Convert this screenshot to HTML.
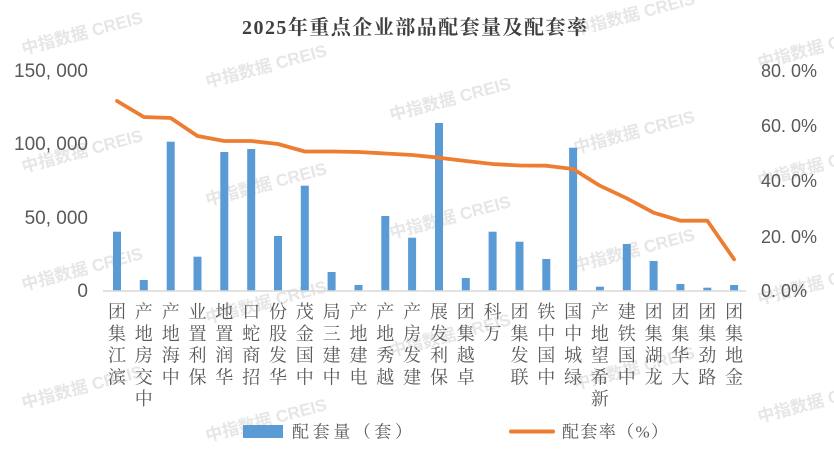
<!DOCTYPE html>
<html><head><meta charset="utf-8">
<style>
html,body{margin:0;padding:0;background:#fff;overflow:hidden;}
svg{display:block;}
.wm{font-family:"Liberation Sans","Noto Sans CJK SC",sans-serif;font-size:17px;fill:#e6e6e6;font-weight:bold;}
.ax{font-family:"Liberation Sans","Noto Sans CJK SC",sans-serif;font-size:19px;fill:#595959;}
.axr{font-family:"Liberation Sans","Noto Sans CJK SC",sans-serif;font-size:18px;fill:#595959;}
.cat{font-family:"Liberation Serif","Noto Serif CJK SC",serif;font-size:18px;fill:#595959;}
.lg{font-family:"Liberation Serif","Noto Serif CJK SC",serif;font-size:17px;fill:#595959;}
.tt{font-family:"Liberation Serif","Noto Serif CJK SC",serif;font-size:20px;font-weight:bold;fill:#404040;}
</style></head>
<body>
<svg width="834" height="455" viewBox="0 0 834 455" xmlns="http://www.w3.org/2000/svg">
<rect width="834" height="455" fill="#fff"/>
<!-- watermarks -->
<g class="wm" text-anchor="middle">
<text x="82" y="39" transform="rotate(-15 82 33)">中指数据 CREIS</text>
<text x="82" y="157" transform="rotate(-15 82 151)">中指数据 CREIS</text>
<text x="82" y="275" transform="rotate(-15 82 269)">中指数据 CREIS</text>
<text x="82" y="393" transform="rotate(-15 82 387)">中指数据 CREIS</text>
<text x="266" y="72" transform="rotate(-15 266 66)">中指数据 CREIS</text>
<text x="266" y="190" transform="rotate(-15 266 184)">中指数据 CREIS</text>
<text x="266" y="308" transform="rotate(-15 266 302)">中指数据 CREIS</text>
<text x="266" y="426" transform="rotate(-15 266 420)">中指数据 CREIS</text>
<text x="450" y="105" transform="rotate(-15 450 99)">中指数据 CREIS</text>
<text x="450" y="223" transform="rotate(-15 450 217)">中指数据 CREIS</text>
<text x="450" y="341" transform="rotate(-15 450 335)">中指数据 CREIS</text>
<text x="634" y="20" transform="rotate(-15 634 14)">中指数据 CREIS</text>
<text x="634" y="138" transform="rotate(-15 634 132)">中指数据 CREIS</text>
<text x="634" y="256" transform="rotate(-15 634 250)">中指数据 CREIS</text>
<text x="634" y="374" transform="rotate(-15 634 368)">中指数据 CREIS</text>
<text x="818" y="53" transform="rotate(-15 818 47)">中指数据 CREIS</text>
<text x="818" y="171" transform="rotate(-15 818 165)">中指数据 CREIS</text>
<text x="818" y="289" transform="rotate(-15 818 283)">中指数据 CREIS</text>
<text x="818" y="407" transform="rotate(-15 818 401)">中指数据 CREIS</text>
</g>

<!-- title -->
<text class="tt" x="242" y="34" textLength="345" lengthAdjust="spacing">2025年重点企业部品配套量及配套率</text>

<!-- left axis labels -->
<g class="ax" text-anchor="end">
<text x="88" y="77">150, 000</text>
<text x="88" y="150">100, 000</text>
<text x="88" y="224">50, 000</text>
<text x="88" y="297">0</text>
</g>
<!-- right axis labels -->
<g class="axr">
<text x="761" y="77">80. 0%</text>
<text x="761" y="132">60. 0%</text>
<text x="761" y="187">40. 0%</text>
<text x="761" y="243">20. 0%</text>
<text x="761" y="297">0. 0%</text>
</g>

<!-- bars -->
<g fill="#5B9BD5">
<rect x="113.0" y="231.7" width="8" height="59.3"/>
<rect x="139.8" y="280" width="8" height="11"/>
<rect x="166.7" y="141.7" width="8" height="149.3"/>
<rect x="193.5" y="256.7" width="8" height="34.3"/>
<rect x="220.3" y="152" width="8" height="139"/>
<rect x="247.2" y="149" width="8" height="142"/>
<rect x="274.0" y="236" width="8" height="55"/>
<rect x="300.8" y="185.7" width="8" height="105.3"/>
<rect x="327.6" y="272" width="8" height="19"/>
<rect x="354.5" y="285" width="8" height="6"/>
<rect x="381.3" y="216" width="8" height="75"/>
<rect x="408.1" y="237.7" width="8" height="53.3"/>
<rect x="435.0" y="123" width="8" height="168"/>
<rect x="461.8" y="278" width="8" height="13"/>
<rect x="488.6" y="231.7" width="8" height="59.3"/>
<rect x="515.5" y="241.7" width="8" height="49.3"/>
<rect x="542.3" y="259" width="8" height="32"/>
<rect x="569.1" y="147.7" width="8" height="143.3"/>
<rect x="595.9" y="286.7" width="8" height="4.3"/>
<rect x="622.8" y="244" width="8" height="47"/>
<rect x="649.6" y="261" width="8" height="30"/>
<rect x="676.4" y="284" width="8" height="7"/>
<rect x="703.3" y="287.7" width="8" height="3.3"/>
<rect x="730.1" y="285" width="8" height="6"/>
</g>

<!-- axis line -->
<line x1="103" y1="291" x2="746" y2="291" stroke="#D9D9D9" stroke-width="1.5"/>

<!-- rate line -->
<polyline fill="none" stroke="#ED7D31" stroke-width="3.8" stroke-linejoin="round" stroke-linecap="round"
points="117,101 143.8,117 170.7,118 197.5,136 224.3,141 251.2,141 278,144 304.8,151.5 331.6,151.5 358.5,152 385.3,153.5 412.1,155 439,157.7 465.8,161 492.6,164 519.5,165.5 546.3,165.7 573.1,169 599.9,185.7 626.8,198.3 653.6,212.7 680.4,220.7 707.3,220.7 734.1,259.3"/>

<!-- category labels -->
<g class="cat" text-anchor="middle">
<text><tspan x="117" y="383.3">滨</tspan><tspan x="117" y="361.6">江</tspan><tspan x="117" y="339.9">集</tspan><tspan x="117" y="318.2">团</tspan></text>
<text><tspan x="143.8" y="405">中</tspan><tspan x="143.8" y="383.3">交</tspan><tspan x="143.8" y="361.6">房</tspan><tspan x="143.8" y="339.9">地</tspan><tspan x="143.8" y="318.2">产</tspan></text>
<text><tspan x="170.7" y="383.3">中</tspan><tspan x="170.7" y="361.6">海</tspan><tspan x="170.7" y="339.9">地</tspan><tspan x="170.7" y="318.2">产</tspan></text>
<text><tspan x="197.5" y="383.3">保</tspan><tspan x="197.5" y="361.6">利</tspan><tspan x="197.5" y="339.9">置</tspan><tspan x="197.5" y="318.2">业</tspan></text>
<text><tspan x="224.3" y="383.3">华</tspan><tspan x="224.3" y="361.6">润</tspan><tspan x="224.3" y="339.9">置</tspan><tspan x="224.3" y="318.2">地</tspan></text>
<text><tspan x="251.2" y="383.3">招</tspan><tspan x="251.2" y="361.6">商</tspan><tspan x="251.2" y="339.9">蛇</tspan><tspan x="251.2" y="318.2">口</tspan></text>
<text><tspan x="278" y="383.3">华</tspan><tspan x="278" y="361.6">发</tspan><tspan x="278" y="339.9">股</tspan><tspan x="278" y="318.2">份</tspan></text>
<text><tspan x="304.8" y="383.3">中</tspan><tspan x="304.8" y="361.6">国</tspan><tspan x="304.8" y="339.9">金</tspan><tspan x="304.8" y="318.2">茂</tspan></text>
<text><tspan x="331.6" y="383.3">中</tspan><tspan x="331.6" y="361.6">建</tspan><tspan x="331.6" y="339.9">三</tspan><tspan x="331.6" y="318.2">局</tspan></text>
<text><tspan x="358.5" y="383.3">电</tspan><tspan x="358.5" y="361.6">建</tspan><tspan x="358.5" y="339.9">地</tspan><tspan x="358.5" y="318.2">产</tspan></text>
<text><tspan x="385.3" y="383.3">越</tspan><tspan x="385.3" y="361.6">秀</tspan><tspan x="385.3" y="339.9">地</tspan><tspan x="385.3" y="318.2">产</tspan></text>
<text><tspan x="412.1" y="383.3">建</tspan><tspan x="412.1" y="361.6">发</tspan><tspan x="412.1" y="339.9">房</tspan><tspan x="412.1" y="318.2">产</tspan></text>
<text><tspan x="439" y="383.3">保</tspan><tspan x="439" y="361.6">利</tspan><tspan x="439" y="339.9">发</tspan><tspan x="439" y="318.2">展</tspan></text>
<text><tspan x="465.8" y="383.3">卓</tspan><tspan x="465.8" y="361.6">越</tspan><tspan x="465.8" y="339.9">集</tspan><tspan x="465.8" y="318.2">团</tspan></text>
<text><tspan x="492.6" y="339.9">万</tspan><tspan x="492.6" y="318.2">科</tspan></text>
<text><tspan x="519.5" y="383.3">联</tspan><tspan x="519.5" y="361.6">发</tspan><tspan x="519.5" y="339.9">集</tspan><tspan x="519.5" y="318.2">团</tspan></text>
<text><tspan x="546.3" y="383.3">中</tspan><tspan x="546.3" y="361.6">国</tspan><tspan x="546.3" y="339.9">中</tspan><tspan x="546.3" y="318.2">铁</tspan></text>
<text><tspan x="573.1" y="383.3">绿</tspan><tspan x="573.1" y="361.6">城</tspan><tspan x="573.1" y="339.9">中</tspan><tspan x="573.1" y="318.2">国</tspan></text>
<text><tspan x="599.9" y="405">新</tspan><tspan x="599.9" y="383.3">希</tspan><tspan x="599.9" y="361.6">望</tspan><tspan x="599.9" y="339.9">地</tspan><tspan x="599.9" y="318.2">产</tspan></text>
<text><tspan x="626.8" y="383.3">中</tspan><tspan x="626.8" y="361.6">国</tspan><tspan x="626.8" y="339.9">铁</tspan><tspan x="626.8" y="318.2">建</tspan></text>
<text><tspan x="653.6" y="383.3">龙</tspan><tspan x="653.6" y="361.6">湖</tspan><tspan x="653.6" y="339.9">集</tspan><tspan x="653.6" y="318.2">团</tspan></text>
<text><tspan x="680.4" y="383.3">大</tspan><tspan x="680.4" y="361.6">华</tspan><tspan x="680.4" y="339.9">集</tspan><tspan x="680.4" y="318.2">团</tspan></text>
<text><tspan x="707.3" y="383.3">路</tspan><tspan x="707.3" y="361.6">劲</tspan><tspan x="707.3" y="339.9">集</tspan><tspan x="707.3" y="318.2">团</tspan></text>
<text><tspan x="734.1" y="383.3">金</tspan><tspan x="734.1" y="361.6">地</tspan><tspan x="734.1" y="339.9">集</tspan><tspan x="734.1" y="318.2">团</tspan></text>
</g>

<!-- legend -->
<rect x="243" y="425" width="40" height="13" fill="#5B9BD5"/>
<text class="lg" x="292" y="437.5" textLength="120" lengthAdjust="spacing">配套量（套）</text>
<line x1="511" y1="431.5" x2="553" y2="431.5" stroke="#ED7D31" stroke-width="4" stroke-linecap="round"/>
<text class="lg" x="562" y="437.5" textLength="106" lengthAdjust="spacing">配套率（%）</text>
</svg>
</body></html>
